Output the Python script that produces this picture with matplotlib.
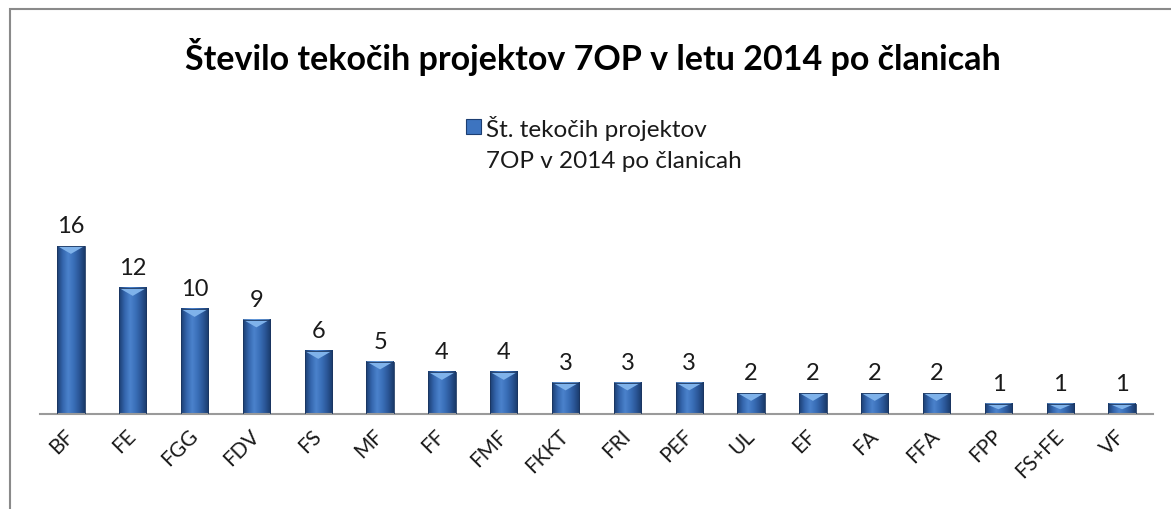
import numpy as np
import matplotlib
matplotlib.use("Agg")
import matplotlib.pyplot as plt
from matplotlib.patches import Rectangle, Polygon
from matplotlib.colors import LinearSegmentedColormap

plt.rcParams['font.family'] = ['Lato', 'DejaVu Sans']

# podatki
clanice = ["BF", "FE", "FGG", "FDV", "FS", "MF", "FF", "FMF", "FKKT", "FRI",
           "PEF", "UL", "EF", "FA", "FFA", "FPP", "FS+FE", "VF"]
projekti = [16, 12, 10, 9, 6, 5, 4, 4, 3, 3, 3, 2, 2, 2, 2, 1, 1, 1]
naslov = "Število tekočih projektov 7OP v letu 2014 po članicah"
legenda = "Št. tekočih projektov\n7OP v 2014 po članicah"

W, H = 1171, 510
fig = plt.figure(figsize=(W / 100, H / 100), dpi=100)
ax = fig.add_axes([40 / W, 95 / H, 1113 / W, 189 / H])

# gradient za stolpce (temni robovi, svetlejša sredina)
cmap = LinearSegmentedColormap.from_list(
    "stolpec", ["#1c3e72", "#3466ad", "#4b82cc", "#3a6fb8", "#2a5697", "#1a3a6a"])
grad = np.linspace(0, 1, 64).reshape(1, -1)

sirina = 0.44
x = np.arange(len(clanice))
for xi, v in zip(x, projekti):
    ax.imshow(grad, cmap=cmap, aspect="auto", interpolation="bilinear",
              extent=[xi - sirina / 2, xi + sirina / 2, 0, v], zorder=2)
    d = min(0.75, v * 0.55)
    ax.add_patch(Polygon([[xi - sirina / 2, v], [xi + sirina / 2, v], [xi, v - d]],
                         closed=True, facecolor="#7fb2ea", edgecolor="none", zorder=3))
    ax.add_patch(Rectangle((xi - sirina / 2, 0), sirina, v, facecolor="none",
                           edgecolor="#1a355f", linewidth=0.6, zorder=4))
    ax.annotate(str(v), (xi, v), xytext=(0, 7), textcoords="offset points",
                ha="center", va="bottom", fontsize=17, color="#1a1a1a")

ax.set_xlim(-0.5, len(clanice) - 0.5)
ax.set_ylim(0, 18)
ax.set_xticks(x)
ax.set_xticklabels(clanice, rotation=45, ha="right", va="center",
                   rotation_mode="anchor", fontsize=15, color="#1a1a1a")
ax.tick_params(axis="x", length=0, pad=13)
ax.set_yticks([])
for s in ["top", "left", "right"]:
    ax.spines[s].set_visible(False)
ax.spines["bottom"].set_color("#9a9a9a")
ax.spines["bottom"].set_linewidth(1.5)
ax.patch.set_alpha(0)

# naslov
fig.text(593 / W, 1 - 70 / H, naslov, ha="center", va="baseline",
         fontsize=24.5, fontweight="bold", color="#000000")

# legenda
fig.patches.append(Rectangle((466 / W, 1 - 135 / H), 15 / W, 15 / H,
                             transform=fig.transFigure, facecolor="#3d74c0",
                             edgecolor="#1c3e72", linewidth=0.8))
vrstice = legenda.split("\n")
fig.text(486 / W, 1 - 137 / H, vrstice[0], ha="left", va="baseline",
         fontsize=17.5, color="#1a1a1a")
fig.text(486 / W, 1 - 168 / H, vrstice[1], ha="left", va="baseline",
         fontsize=17.5, color="#1a1a1a")

# okvir grafikona
fig.patches.append(Rectangle((10 / W, -0.2), 1.5, 1.2 - 10 / H,
                             transform=fig.transFigure, facecolor="none",
                             edgecolor="#8a8a8a", linewidth=1.5))

fig.savefig("out.png", dpi=100)
